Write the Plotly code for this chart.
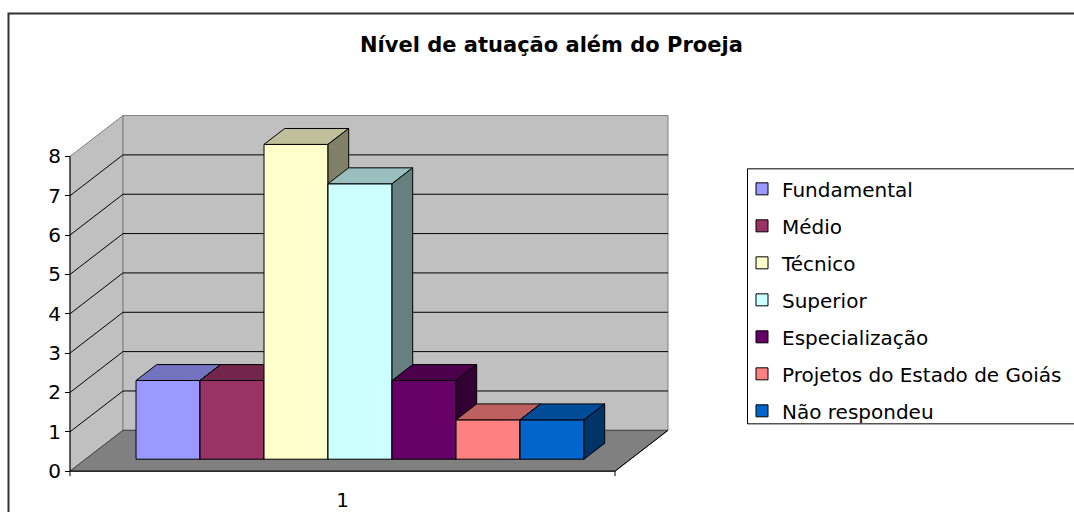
import plotly.graph_objects as go

# ---------------- data ----------------
chart_title = "Nível de atuação além do Proeja"
series_names = ["Fundamental", "Médio", "Técnico", "Superior",
                "Especialização", "Projetos do Estado de Goiás", "Não respondeu"]
series_values = [2, 2, 8, 7, 2, 1, 1]
series_colors = ["#9999FF", "#993366", "#FFFFCC", "#CCFFFF",
                 "#660066", "#FF8080", "#0066CC"]
category_labels = ["1"]
y_tick_values = [0, 1, 2, 3, 4, 5, 6, 7, 8]

# ---------------- geometry (oblique 3-D look) ----------------
W, H = 1074, 512
PX_X, PX_Y = 64.0, 39.5          # pixels per x-unit / per value unit
ORIG_X, ORIG_Y = 70.0, 473.0     # pixel position of front-left floor corner
OX, OY = 53.0 / PX_X, 41.0 / PX_Y  # screen shift for full depth
FLOOR_W = 545.0 / PX_X
BAR_X0 = 0.789
BAR_W = 1.0
Z0, Z1 = 0.293, 0.683
YMAX = y_tick_values[-1]

xr = [-ORIG_X / PX_X, (W - ORIG_X) / PX_X]
yr = [-(H - ORIG_Y) / PX_Y, ORIG_Y / PX_Y]


def proj(X, Y, Z):
    return X + Z * OX, Y + Z * OY


def poly(pts):
    xs, ys = [], []
    for p in pts:
        if p is None:
            xs.append(None); ys.append(None)
        else:
            sx, sy = proj(*p)
            xs.append(sx); ys.append(sy)
    return xs, ys


def shade(hexc, f):
    h = hexc.lstrip("#")
    r, g, b = (int(h[i:i + 2], 16) for i in (0, 2, 4))
    return "rgb(%d,%d,%d)" % (round(r * f), round(g * f), round(b * f))


fig = go.Figure()

# walls & floor (base subplot)
def add_poly(pts, fill=None, line_color=None, width=1, axes=("x", "y")):
    xs, ys = poly(pts)
    fig.add_trace(go.Scatter(
        x=xs, y=ys, mode="lines",
        fill="toself" if fill else None,
        fillcolor=fill,
        line=dict(color=line_color or "rgba(0,0,0,0)", width=width),
        showlegend=False, hoverinfo="skip",
        xaxis=axes[0], yaxis=axes[1]))

FW = FLOOR_W
add_poly([(0, 0, 0), (0, 0, 1), (0, YMAX, 1), (0, YMAX, 0), (0, 0, 0)],
         fill="#C0C0C0", line_color="#808080")
add_poly([(0, 0, 1), (FW, 0, 1), (FW, YMAX, 1), (0, YMAX, 1), (0, 0, 1)],
         fill="#C0C0C0", line_color="#808080")
add_poly([(0, 0, 0), (FW, 0, 0), (FW, 0, 1), (0, 0, 1), (0, 0, 0)],
         fill="#808080", line_color="#404040")

# gridlines
grid = []
for k in y_tick_values[1:-1]:
    grid += [(0, k, 0), (0, k, 1), (FW, k, 1), None]
add_poly(grid, line_color="black", width=1)

# axis lines + category boundary ticks
add_poly([(0, YMAX, 0), (0, 0, 0), (FW, 0, 0), (FW, 0, 1)], line_color="black", width=1)
tk = 5.0 / PX_Y
add_poly([(0, 0, 0), (0, -tk, 0), None, (FW, 0, 0), (FW, -tk, 0)],
         line_color="black", width=1)

# bars, each in its own overlaying subplot so later bars cover earlier sides
for i, (name, v, c) in enumerate(zip(series_names, series_values, series_colors)):
    ax = ("x%d" % (i + 2), "y%d" % (i + 2))
    X0 = BAR_X0 + i * BAR_W
    X1 = X0 + BAR_W
    cx, base = proj(X0 + BAR_W / 2, 0, Z0)
    fig.add_trace(go.Bar(
        x=[cx], y=[v], base=[base], width=[BAR_W],
        marker=dict(color=c, line=dict(color="black", width=1)),
        name=name, legendgroup=name, hoverinfo="skip",
        xaxis=ax[0], yaxis=ax[1]))
    add_poly([(X0, v, Z0), (X1, v, Z0), (X1, v, Z1), (X0, v, Z1), (X0, v, Z0)],
             fill=shade(c, 0.75), line_color="black", axes=ax)
    add_poly([(X1, 0, Z0), (X1, 0, Z1), (X1, v, Z1), (X1, v, Z0), (X1, 0, Z0)],
             fill=shade(c, 0.5), line_color="black", axes=ax)

font_family = "DejaVu Sans, Arial, sans-serif"

layout = dict(
    width=W, height=H, autosize=False,
    margin=dict(l=0, r=0, t=0, b=0),
    paper_bgcolor="white", plot_bgcolor="white",
    hovermode=False, barmode="overlay",
    font=dict(family=font_family, size=20, color="black"),
    xaxis=dict(range=xr, domain=[0, 1], anchor="free", position=(H - ORIG_Y) / H,
               tickmode="array", tickvals=[FLOOR_W / 2], ticktext=category_labels,
               ticks="outside", ticklen=11, tickcolor="rgba(0,0,0,0)",
               showgrid=False, zeroline=False, showline=False,
               tickfont=dict(size=20, family=font_family, color="black"),
               fixedrange=True),
    yaxis=dict(range=yr, domain=[0, 1], anchor="free", position=ORIG_X / W,
               tickmode="array", tickvals=y_tick_values,
               ticks="outside", ticklen=5, tickcolor="black", tickwidth=1,
               showgrid=False, zeroline=False, showline=False,
               tickfont=dict(size=20, family=font_family, color="black"),
               fixedrange=True),
    legend=dict(x=742 / W, xanchor="left", y=1 - 170 / H, yanchor="top",
                bgcolor="rgba(0,0,0,0)", borderwidth=0,
                traceorder="grouped", tracegroupgap=8,
                font=dict(size=20, family=font_family, color="black")),
    annotations=[dict(text="<b>%s</b>" % chart_title, x=551 / W, y=1 - 45 / H,
                      xref="paper", yref="paper", xanchor="center", yanchor="middle",
                      showarrow=False,
                      font=dict(size=21, family=font_family, color="black"))],
    shapes=[
        dict(type="rect", xref="paper", yref="paper",
             x0=8.5 / W, x1=1.05, y0=-0.05, y1=1 - 13.5 / H,
             line=dict(color="#333333", width=2), fillcolor="rgba(0,0,0,0)"),
        dict(type="rect", xref="paper", yref="paper",
             x0=747.5 / W, x1=1.05, y0=1 - 425.5 / H, y1=1 - 169.5 / H,
             line=dict(color="black", width=1), fillcolor="rgba(0,0,0,0)"),
    ],
)
for i in range(len(series_names)):
    layout["xaxis%d" % (i + 2)] = dict(range=xr, overlaying="x", anchor="y%d" % (i + 2),
                                      visible=False, fixedrange=True)
    layout["yaxis%d" % (i + 2)] = dict(range=yr, overlaying="y", anchor="x%d" % (i + 2),
                                      visible=False, fixedrange=True)

fig.update_layout(**layout)
fig.write_html("out.html",
               config={"displayModeBar": False, "staticPlot": True},
               post_script="document.body.style.margin='0';"
                           "document.body.style.overflow='hidden';")
